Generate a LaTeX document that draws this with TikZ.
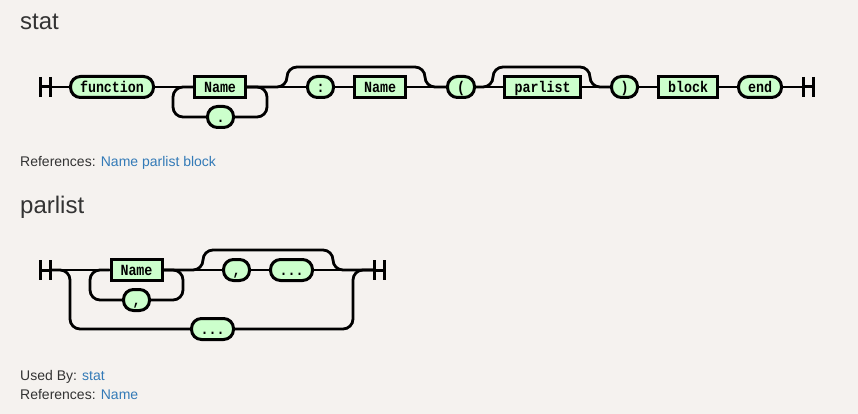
\documentclass[tikz,border=0pt]{standalone}
\usepackage{fontspec}
\setmainfont{Liberation Sans}
\newfontfamily\rrfont[FakeStretch=0.86]{Liberation Mono}
\definecolor{bgc}{RGB}{245,242,239}
\definecolor{nodefill}{RGB}{204,255,204}
\definecolor{txt}{RGB}{51,51,51}
\definecolor{link}{RGB}{51,122,183}
\tikzset{
  term/.style={draw, line width=3pt, fill=nodefill, rounded corners=10pt,
    minimum height=21pt, inner sep=0pt, text height=10.5pt, text depth=0pt,
    font=\rrfont\bfseries\fontsize{15.5}{16}\selectfont},
  nonterm/.style={term, sharp corners},
  wire/.style={line width=2.8pt, rounded corners=10pt},
  endbar/.style={line width=3pt},
  heading/.style={anchor=base west, inner sep=0pt, text=txt, font=\fontsize{24}{28}\selectfont},
  info/.style={anchor=base west, inner sep=0pt, text=txt, font=\fontsize{14}{16}\selectfont}
}
\begin{document}
\begin{tikzpicture}[x=1pt,y=-1pt]
\useasboundingbox[fill=bgc] (0,0) rectangle (858,414);

% ---------- texts ----------
\node[heading] (h1) at (20,30) {stat};
\node[info] (r1) at (20,167) {References: \textcolor{link}{Name parlist block}};
\node[heading] (h2) at (20,213) {parlist};
\node[info] (u2) at (20,380) {Used By: \textcolor{link}{stat}};
\node[info] (r2) at (20,399) {References: \textcolor{link}{Name}};

% ---------- stat diagram ----------
\node[term, minimum width=83pt] (fn) at (112,87) {function};
\node[nonterm, minimum width=51pt] (nm1) at (220,87) {Name};
\node[term, minimum width=26pt] (dot) at (220.5,117) {.};
\node[term, minimum width=26pt] (colon) at (320.5,87) {:};
\node[nonterm, minimum width=51pt] (nm2) at (380,87) {Name};
\node[term, minimum width=27pt] (lp) at (461,87) {(};
\node[nonterm, minimum width=76pt] (pl) at (542.5,87) {parlist};
\node[term, minimum width=26pt] (rp) at (624.5,87) {)};
\node[nonterm, minimum width=59pt] (blk) at (688,87) {block};
\node[term, minimum width=43pt] (endt) at (760,87) {end};

\coordinate (s1) at (50,87);
\coordinate (e1) at (803,87);
\coordinate (la) at (173,87);
\coordinate (lb) at (267,87);
\coordinate (b1l) at (287,67);
\coordinate (b1r) at (425,67);
\coordinate (b2l) at (493,67);
\coordinate (b2r) at (590,67);

\draw[endbar] (s1) ++(-10,-10) -- ++(0,20) (s1) ++(0,-10) -- ++(0,20) (s1) -- ++(-10,0);
\draw[endbar] (e1) ++(0,-10) -- ++(0,20) (e1) ++(10,-10) -- ++(0,20) (e1) -- ++(10,0);

\draw[wire] (s1) -- (fn.west);
\draw[wire] (fn.east) -- (nm1.west);
\draw[wire] (nm1.east) -- (colon.west);
\draw[wire] (colon.east) -- (nm2.west);
\draw[wire] (nm2.east) -- (lp.west);
\draw[wire] (lp.east) -- (pl.west);
\draw[wire] (pl.east) -- (rp.west);
\draw[wire] (rp.east) -- (blk.west);
\draw[wire] (blk.east) -- (endt.west);
\draw[wire] (endt.east) -- (e1);
\draw[wire] (nm1.east) -- (lb) |- (dot.east);
\draw[wire] (dot.west) -| (la) -- (nm1.west);
\draw[wire] (nm1.east) -| (b1l) -- (b1r) |- (lp.west);
\draw[wire] (lp.east) -| (b2l) -- (b2r) |- (rp.west);

% ---------- parlist diagram ----------
\node[nonterm, minimum width=51pt] (nm3) at (136.5,270) {Name};
\node[term, minimum width=26pt] (cm1) at (136.5,300) {,};
\node[term, minimum width=26pt] (cm2) at (236.5,270) {,};
\node[term, minimum width=42pt] (dd1) at (291.5,270) {...};
\node[term, minimum width=42pt] (dd2) at (212.5,329) {...};

\coordinate (s2) at (50,270);
\coordinate (e2) at (374,270);
\coordinate (p1) at (70,329);
\coordinate (p2) at (353,270);
\coordinate (q1) at (90,270);
\coordinate (q2) at (183,270);
\coordinate (b3l) at (203,250);
\coordinate (b3r) at (333,250);

\draw[endbar] (s2) ++(-10,-10) -- ++(0,20) (s2) ++(0,-10) -- ++(0,20) (s2) -- ++(-10,0);
\draw[endbar] (e2) ++(0,-10) -- ++(0,20) (e2) ++(10,-10) -- ++(0,20) (e2) -- ++(10,0);

\draw[wire] (s2) -- (nm3.west);
\draw[wire] (nm3.east) -- (cm2.west);
\draw[wire] (cm2.east) -- (dd1.west);
\draw[wire] (dd1.east) -- (e2);
\draw[wire] (nm3.east) -- (q2) |- (cm1.east);
\draw[wire] (cm1.west) -| (q1) -- (nm3.west);
\draw[wire] (nm3.east) -| (b3l) -- (b3r) |- (e2);
\draw[wire] (s2) -| (p1) -- (dd2.west);
\draw[wire] (dd2.east) -| (p2) -- (e2);
\end{tikzpicture}
\end{document}
